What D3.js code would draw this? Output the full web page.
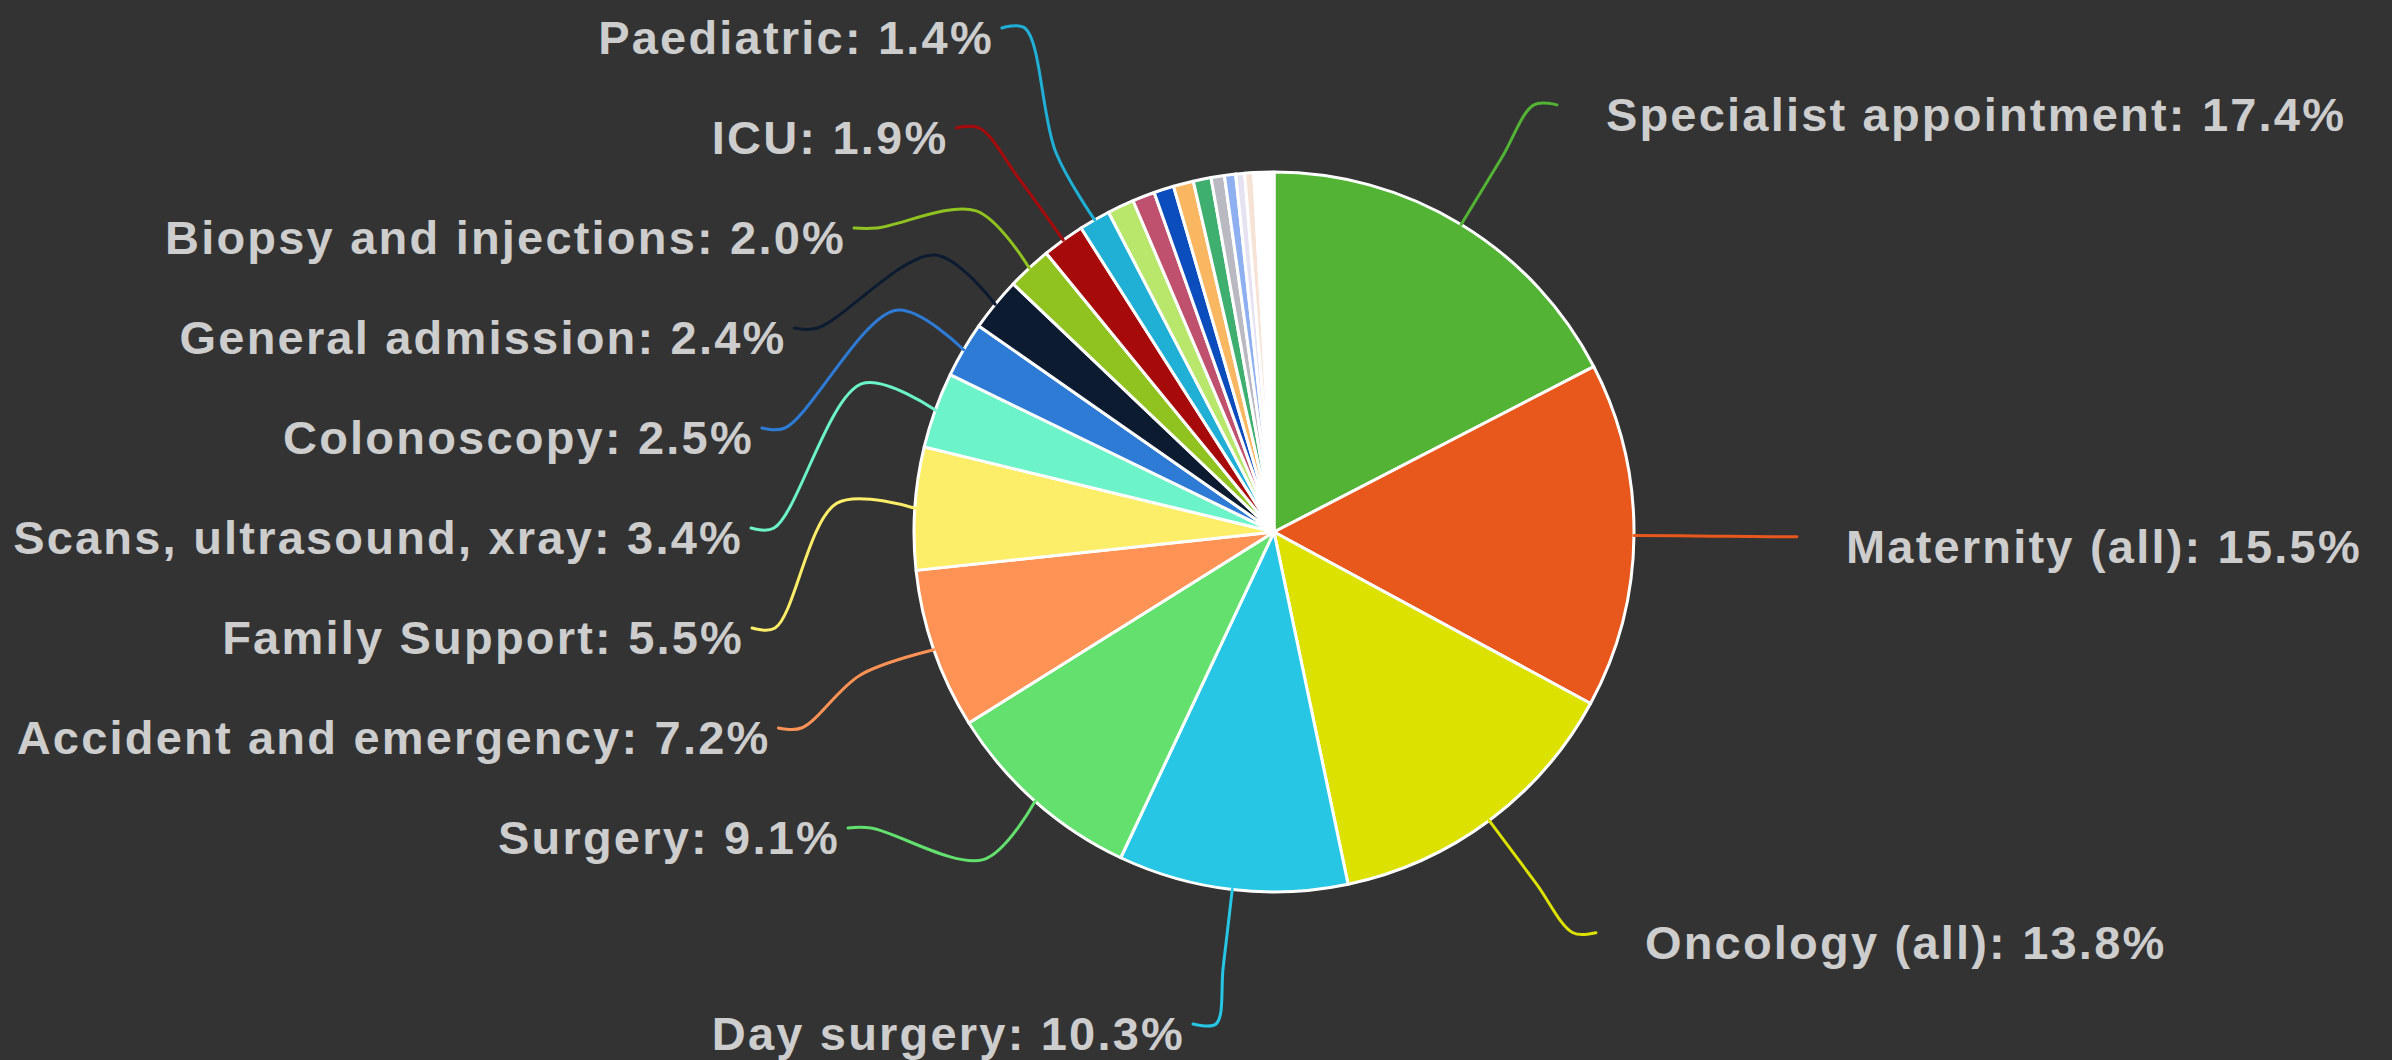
<!DOCTYPE html>
<html>
<head>
<meta charset="utf-8">
<script src="https://cdn.jsdelivr.net/npm/d3@7"></script>
<style>
  html, body { margin: 0; padding: 0; background: #333334; }
  svg { display: block; }
</style>
</head>
<body>
<div id="chart"></div>
<script>
var categories = [
  "Specialist appointment", "Maternity (all)", "Oncology (all)", "Day surgery", "Surgery",
  "Accident and emergency", "Family Support", "Scans, ultrasound, xray", "Colonoscopy",
  "General admission", "Biopsy and injections", "ICU", "Paediatric",
  "Other 1", "Other 2", "Other 3", "Other 4", "Other 5", "Other 6", "Other 7", "Other 8", "Other 9", "Other 10"
];
var values = [17.4, 15.5, 13.8, 10.3, 9.1, 7.2, 5.5, 3.4, 2.5, 2.4, 2.0, 1.9, 1.4,
  1.2, 1.0, 0.9, 0.9, 0.8, 0.6, 0.5, 0.4, 0.4, 0.9];
var colors = ["#52b335", "#e8571c", "#dde100", "#26c6e4", "#63e06d", "#ff9356", "#fdee69",
  "#6df3c9", "#2e7bd6", "#0d1b31", "#90c31f", "#a60a0b", "#20b0d6",
  "#b9e76c", "#bf506e", "#0b4dbd", "#f8b760", "#3eaf6f", "#b9b9c1", "#8fb0f0", "#e6e2f2", "#f7e2d6", "#ffffff"];
var labelledCount = 13;

var width = 2392, height = 1060;
var cx = 1274, cy = 532, r = 360;
var bendR = r + 78, lineR = 500, len2 = 23;
var gap = 100, topBound = 28, bottomBound = 1024;

var svg = d3.select("#chart").append("svg")
    .attr("width", width)
    .attr("height", height);

var g = svg.append("g").attr("transform", `translate(${cx},${cy})`);

var pie = d3.pie().sort(null).value(d => d.value);
var data = categories.map((c, i) => ({name: c, value: values[i], color: colors[i], labelled: i < labelledCount}));
var arcs = pie(data);

var arc = d3.arc().innerRadius(0).outerRadius(r);

g.selectAll("path.slice")
  .data(arcs)
  .join("path")
  .attr("class", "slice")
  .attr("d", arc)
  .attr("fill", d => d.data.color)
  .attr("stroke", "#ffffff")
  .attr("stroke-width", 3)
  .attr("stroke-linejoin", "round");

// label layout: radial out, short horizontal tail, then spread labels on each side
var polar = (a, rad) => [Math.sin(a) * rad, -Math.cos(a) * rad];

var items = arcs.filter(d => d.data.labelled).map(d => {
  var mid = (d.startAngle + d.endAngle) / 2;
  var p = polar(mid, lineR);
  var dir = Math.sin(mid) >= 0 ? 1 : -1;
  return {
    d: d, mid: mid, dir: dir,
    free: Math.abs(Math.sin(mid)) < Math.sin(12 * Math.PI / 180),
    nx: Math.abs(p[0]), x: p[0] + dir * len2, y: p[1]
  };
});

function shiftSide(list) {
  list.sort((a, b) => a.y - b.y);
  var total = 0;
  list.forEach((it, i) => {
    if (i > 0 && it.y < list[i - 1].y + gap) {
      total += list[i - 1].y + gap - it.y;
      it.y = list[i - 1].y + gap;
    }
  });
  if (total > 0) list.forEach(it => it.y -= total / list.length);
  list.forEach((it, i) => {
    var lo = i === 0 ? topBound - cy : list[i - 1].y + gap;
    if (it.y < lo) it.y = lo;
  });
  for (var i = list.length - 1; i >= 0; i--) {
    var hi = i === list.length - 1 ? bottomBound - cy : list[i + 1].y - gap;
    if (list[i].y > hi) list[i].y = hi;
  }
  list.forEach(it => {
    var circ = Math.abs(it.y) < lineR ? Math.sqrt(lineR * lineR - it.y * it.y) : 0;
    it.x = it.dir * (Math.max(circ, it.nx) + len2);
  });
}

shiftSide(items.filter(it => !it.free && it.dir < 0));
shiftSide(items.filter(it => !it.free && it.dir > 0));
items.filter(it => it.free).forEach(it => {
  it.y = Math.max(topBound - cy, Math.min(bottomBound - cy, it.y));
});

var line = d3.line().curve(d3.curveCatmullRom.alpha(0.5));

g.selectAll("path.leader")
  .data(items)
  .join("path")
  .attr("class", "leader")
  .attr("d", it => line([
    polar(it.mid, r),
    polar(it.mid, bendR),
    [it.x - it.dir * len2, it.y],
    [it.x, it.y]
  ]))
  .attr("fill", "none")
  .attr("stroke", it => it.d.data.color)
  .attr("stroke-width", 3)
  .attr("stroke-linecap", "round");

g.selectAll("text.label")
  .data(items)
  .join("text")
  .attr("class", "label")
  .attr("x", it => it.dir > 0 ? it.x + 49 : it.x - 8)
  .attr("y", it => it.y)
  .attr("dy", "0.55em")
  .attr("text-anchor", it => it.dir > 0 ? "start" : "end")
  .attr("fill", "#cdcdcd")
  .style("font-family", "'Liberation Sans', Arial, sans-serif")
  .style("font-weight", "bold")
  .style("font-size", "47px")
  .style("letter-spacing", "2.2px")
  .text(it => `${it.d.data.name}: ${it.d.data.value.toFixed(1)}%`);
</script>
</body>
</html>
